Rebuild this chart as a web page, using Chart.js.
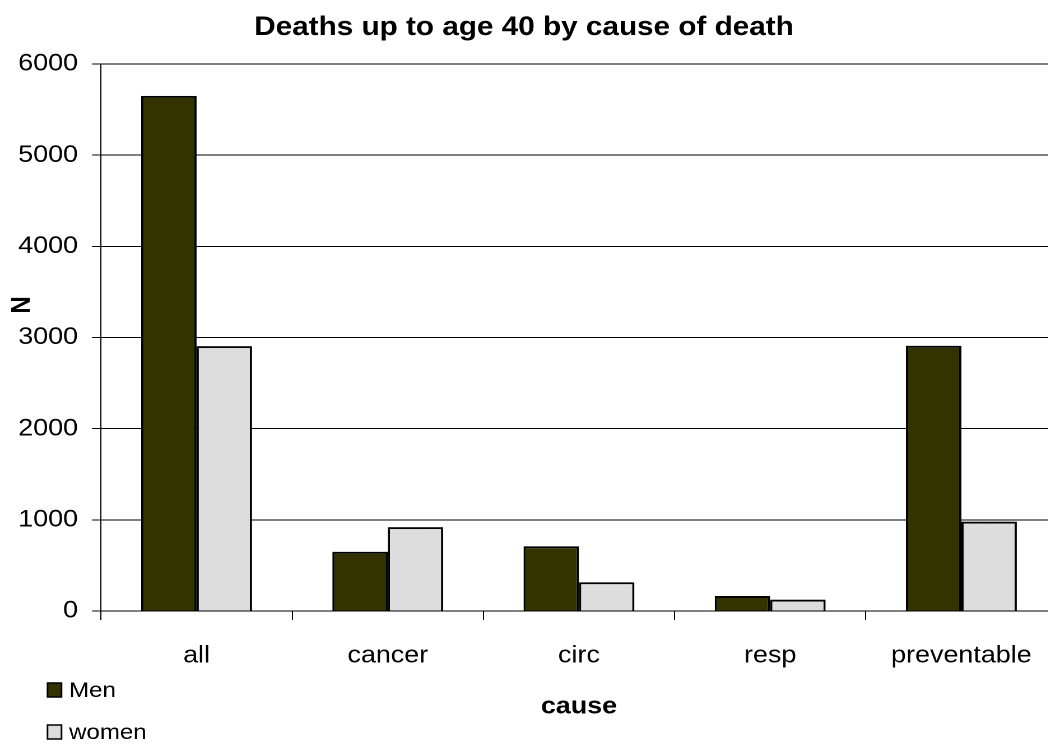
<!DOCTYPE html>
<html>
<head>
<meta charset="utf-8">
<title>Deaths up to age 40 by cause of death</title>
<script src="https://cdn.jsdelivr.net/npm/chart.js@4.4.1/dist/chart.umd.min.js"></script>
<style>
  html, body { margin: 0; padding: 0; background: #fff; overflow: hidden; }
  #c { position: absolute; left: 0; top: 0; }
</style>
</head>
<body>
<!-- drawn on a narrower logical canvas and widened by CSS, giving the wide lettering -->
<canvas id="c" width="946" height="747" style="width:1060px;height:747px"></canvas>
<script>
// ---- data ----
const categories = ['all', 'cancer', 'circ', 'resp', 'preventable'];
const menDeaths = [5650, 650, 710, 165, 2910];
const womenDeaths = [2905, 920, 315, 125, 980];
const yTicks = [0, 1000, 2000, 3000, 4000, 5000, 6000];
const seriesNames = ['Men', 'women'];
const chartTitle = 'Deaths up to age 40 by cause of death';
const xAxisTitle = 'cause';
const yAxisTitle = 'N';

// ---- styling ----
const SX = 1060 / 946;           // horizontal widening applied by CSS
const FONT = "'Liberation Sans', Arial, Helvetica, sans-serif";
const MEN_FILL = '#333300';

// fine dotted light-grey fill for the women series
function dottedPattern() {
  const p = document.createElement('canvas');
  p.width = 2; p.height = 2;
  const g = p.getContext('2d');
  g.fillStyle = '#ececec';
  g.fillRect(0, 0, 2, 2);
  g.fillStyle = '#cfcfcf';
  g.fillRect(0, 0, 1, 1);
  g.fillRect(1, 1, 1, 1);
  return g.createPattern(p, 'repeat');
}
const ctx = document.getElementById('c').getContext('2d');
const WOMEN_FILL = dottedPattern();

// title, rotated y-axis title and the stacked legend at bottom-left
const decorations = {
  id: 'decorations',
  afterDraw(chart) {
    const c = chart.ctx;
    c.save();
    c.fillStyle = '#000';

    c.font = `bold 26.5px ${FONT}`;
    c.textAlign = 'center';
    c.textBaseline = 'alphabetic';
    c.fillText(chartTitle, 524 / SX, 35);

    c.save();
    c.translate(22.5 / SX, 305);
    c.rotate(-Math.PI / 2);
    c.font = `bold 24px ${FONT}`;
    c.textAlign = 'center';
    c.textBaseline = 'middle';
    c.fillText(yAxisTitle, 0, 0);
    c.restore();

    const fills = [MEN_FILL, WOMEN_FILL];
    const baselines = [697, 739];
    c.font = `21.5px ${FONT}`;
    c.textAlign = 'left';
    c.textBaseline = 'alphabetic';
    seriesNames.forEach((name, i) => {
      const bx = 47.5 / SX, by = baselines[i] - 14, bw = 14 / SX, bh = 14;
      c.fillStyle = fills[i];
      c.fillRect(bx, by, bw, bh);
      c.lineWidth = 1.5;
      c.strokeStyle = '#000';
      c.strokeRect(bx, by, bw, bh);
      c.fillStyle = '#000';
      c.fillText(name, 69 / SX, baselines[i]);
    });
    c.restore();
  }
};

new Chart(ctx, {
  type: 'bar',
  data: {
    labels: categories,
    datasets: [
      { label: seriesNames[0], data: menDeaths, backgroundColor: MEN_FILL,
        borderColor: '#000', borderWidth: 2 },
      { label: seriesNames[1], data: womenDeaths, backgroundColor: WOMEN_FILL,
        borderColor: '#000', borderWidth: 2 }
    ]
  },
  options: {
    responsive: false,
    animation: false,
    devicePixelRatio: 2,
    categoryPercentage: 0.58,
    barPercentage: 1.0,
    layout: { padding: { top: 64, right: 2.7, left: 0, bottom: 0 } },
    plugins: {
      legend: { display: false },
      title: { display: false },
      tooltip: { enabled: false }
    },
    scales: {
      x: {
        offset: true,
        grid: { drawOnChartArea: false, color: '#000', tickLength: 9, offset: true },
        border: { color: '#000', width: 1 },
        ticks: { color: '#000', font: { family: FONT, size: 24 }, padding: 21.5, maxRotation: 0 },
        title: { display: true, text: xAxisTitle, color: '#000',
                 font: { family: FONT, size: 24, weight: 'bold' }, padding: { top: 0, bottom: 25.5 } },
        afterFit(scale) { scale.height = 136; }
      },
      y: {
        min: 0,
        max: 6000,
        afterBuildTicks(scale) { scale.ticks = yTicks.map(v => ({ value: v })); },
        grid: { color: '#000', lineWidth: 1, tickLength: 8 },
        border: { color: '#000', width: 1 },
        ticks: { color: '#000', font: { family: FONT, size: 24 }, padding: 12.5,
                 callback: v => String(v) },
        afterFit(scale) { scale.width = 101 / SX; }
      }
    }
  },
  plugins: [decorations]
});
</script>
</body>
</html>
